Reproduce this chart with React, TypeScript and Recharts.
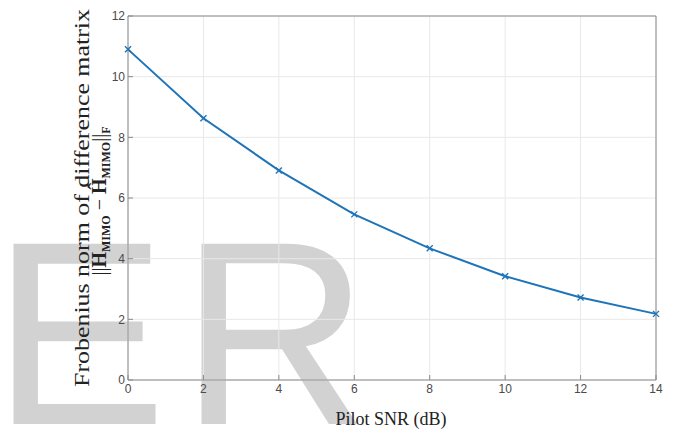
import React from 'react';
import { LineChart, Line, XAxis, YAxis, CartesianGrid } from 'recharts';

// Pilot SNR (dB) on the x axis
const snrDb = [0, 2, 4, 6, 8, 10, 12, 14];
// Frobenius norm ||H - H_hat||_F
const froNorm = [10.9, 8.63, 6.91, 5.46, 4.34, 3.42, 2.72, 2.18];
const xTicks = [0, 2, 4, 6, 8, 10, 12, 14];
const yTicks = [0, 2, 4, 6, 8, 10, 12];

const data = snrDb.map((snr, i) => ({ snr, norm: froNorm[i] }));

const lineColor = '#1f74b8';
const axisColor = '#8a8a8a';
const tickStyle = { fill: '#4a4a4a', fontSize: 12, fontFamily: 'Liberation Sans, Arial, sans-serif' };

const CrossDot = (props: any) => {
    const { cx, cy } = props;
    if (cx == null || cy == null) return null;
    const s = 3;
    return (
        <g stroke={lineColor} strokeWidth={1.4}>
            <line x1={cx - s} y1={cy - s} x2={cx + s} y2={cy + s} />
            <line x1={cx - s} y1={cy + s} x2={cx + s} y2={cy - s} />
        </g>
    );
};

const App = () => {
    return (
        <div style={{ position: 'absolute', left: 0, top: 0, width: 676, height: 435, background: '#fff', overflow: 'hidden' }}>
            {/* watermark behind the plot */}
            <svg width={676} height={435} style={{ position: 'absolute', left: 0, top: 0 }}>
                <g fill="#d2d2d2" fontFamily="Liberation Sans, Arial, sans-serif" fontSize={262}>
                    <text x={-8} y={424}>E</text>
                    <text x={180} y={424}>R</text>
                </g>
            </svg>
            <div style={{ position: 'absolute', left: 0, top: 0 }}>
                <LineChart width={676} height={435} data={data} margin={{ top: 15, right: 19, bottom: 25, left: 88 }}>
                    <CartesianGrid stroke="#e8e8e8" strokeWidth={1} />
                    <XAxis
                        dataKey="snr"
                        type="number"
                        domain={[0, 14]}
                        ticks={xTicks}
                        height={30}
                        stroke={axisColor}
                        tickSize={-5}
                        tickMargin={9}
                        tick={tickStyle}
                    />
                    <XAxis
                        xAxisId="top"
                        orientation="top"
                        dataKey="snr"
                        type="number"
                        domain={[0, 14]}
                        ticks={xTicks}
                        height={1}
                        stroke={axisColor}
                        tickSize={-5}
                        tick={false}
                    />
                    <YAxis
                        type="number"
                        domain={[0, 12]}
                        ticks={yTicks}
                        width={40}
                        stroke={axisColor}
                        tickSize={-5}
                        tickMargin={8}
                        tick={tickStyle}
                    />
                    <YAxis
                        yAxisId="right"
                        orientation="right"
                        type="number"
                        domain={[0, 12]}
                        ticks={yTicks}
                        width={1}
                        stroke={axisColor}
                        tickSize={-5}
                        tick={false}
                    />
                    <Line
                        type="linear"
                        dataKey="norm"
                        stroke={lineColor}
                        strokeWidth={2}
                        dot={<CrossDot />}
                        activeDot={false}
                        isAnimationActive={false}
                    />
                </LineChart>
            </div>
            {/* axis titles */}
            <svg width={676} height={435} style={{ position: 'absolute', left: 0, top: 0, pointerEvents: 'none' }}>
                <text
                    x={391}
                    y={425}
                    textAnchor="middle"
                    fontFamily="Liberation Serif, Times New Roman, serif"
                    fontSize={18}
                    fill="#222"
                >
                    Pilot SNR (dB)
                </text>
                <text
                    transform="translate(89,198) rotate(-90)"
                    textAnchor="middle"
                    fontFamily="Liberation Serif, Times New Roman, serif"
                    fontSize={21}
                    fill="#222"
                    textLength={378}
                    lengthAdjust="spacingAndGlyphs"
                >
                    Frobenius norm of difference matrix
                </text>
                <text
                    transform="translate(106,201) rotate(-90)"
                    textAnchor="middle"
                    fontFamily="Liberation Serif, Times New Roman, serif"
                    fontSize={20}
                    fill="#222"
                >
                    <tspan>||</tspan>
                    <tspan fontWeight="bold">H</tspan>
                    <tspan fontWeight="bold" fontSize={12} dy={4}>MIMO</tspan>
                    <tspan dy={-4}> − </tspan>
                    <tspan fontWeight="bold">Ĥ</tspan>
                    <tspan fontWeight="bold" fontSize={12} dy={4}>MIMO</tspan>
                    <tspan dy={-4}>||</tspan>
                    <tspan fontWeight="bold" fontSize={12} dy={4}>F</tspan>
                </text>
            </svg>
        </div>
    );
};

export default App;
